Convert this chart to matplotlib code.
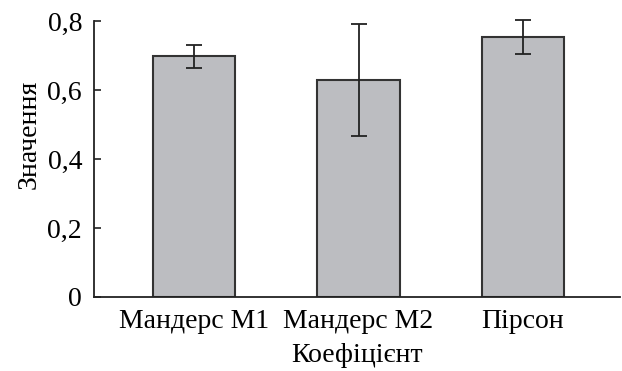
import matplotlib.pyplot as plt
from matplotlib.ticker import FuncFormatter

# data
categories = ['Мандерс M1', 'Мандерс M2', 'Пірсон']
values = [0.697, 0.629, 0.754]
errors = [0.032, 0.162, 0.050]
y_ticks = [0, 0.2, 0.4, 0.6, 0.8]

plt.rcParams['font.family'] = 'serif'
plt.rcParams['font.serif'] = ['Liberation Serif', 'DejaVu Serif']

fig = plt.figure(figsize=(6.22, 3.71), dpi=100)
ax = fig.add_axes([0.151, 0.1995, 0.846, 0.744])

x = list(range(len(categories)))
ax.bar(x, values, width=0.5, color='#bcbdc1', edgecolor='#333333', linewidth=1.5, zorder=2)
ax.errorbar(x, values, yerr=errors, fmt='none', ecolor='#222222', elinewidth=1.3,
            capsize=6, capthick=1.3, zorder=3, clip_on=False)

ax.set_xlim(-0.608, 2.59)
ax.set_ylim(0, 0.8)
ax.set_yticks(y_ticks)
ax.yaxis.set_major_formatter(FuncFormatter(lambda v, p: '0' if v == 0 else f'{v:.1f}'.replace('.', ',')))
ax.set_xticks(x)
ax.set_xticklabels(categories)

for s in ['top', 'right']:
    ax.spines[s].set_visible(False)
for s in ['left', 'bottom']:
    ax.spines[s].set_color('#222222')
    ax.spines[s].set_linewidth(1.3)

ax.tick_params(axis='y', direction='in', length=5, width=1.2, labelsize=20, pad=8.5, color='#222222')
ax.tick_params(axis='x', length=0, labelsize=20, pad=9)

ax.set_ylabel('Значення', fontsize=20)
ax.yaxis.set_label_coords(-0.1, 0.59)
ax.set_xlabel('Коефіцієнт', fontsize=20, labelpad=6)

fig.savefig('out.png', dpi=100)
